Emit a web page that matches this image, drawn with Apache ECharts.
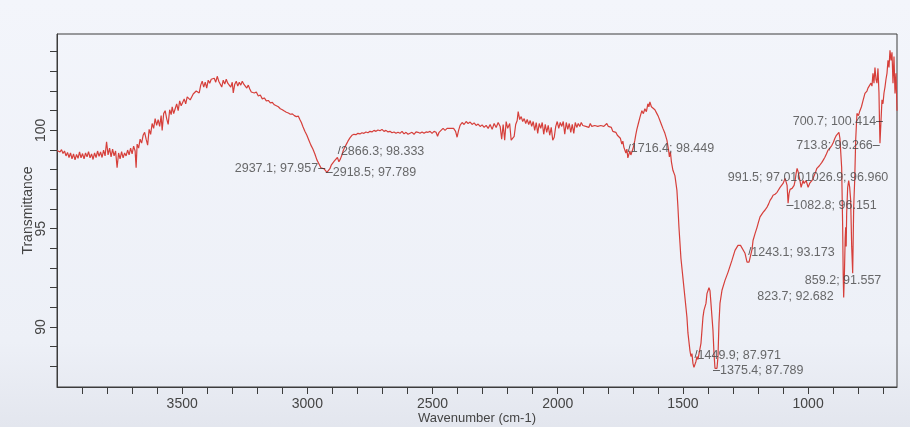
<!DOCTYPE html>
<html>
<head>
<meta charset="utf-8">
<script src="https://cdn.jsdelivr.net/npm/echarts@6/dist/echarts.min.js"></script>
<style>
html,body{margin:0;padding:0;background:#eef1f7;}
#chart{width:910px;height:427px;}
</style>
</head>
<body>
<div id="chart"></div>
<script>
// ---- Spectrum data: [wavenumber (cm-1), transmittance] ----
const regionBaseline = [
 [4000,98.98],[3994,99.05],[3988,98.9],[3982,99.02],[3976,98.82],[3970,98.95],[3964,98.7],[3958,98.88],[3952,98.62],[3946,98.85],
 [3940,98.55],[3934,98.8],[3928,98.5],[3922,98.78],[3916,98.58],[3910,98.9],[3904,98.6],[3898,98.82],[3892,98.55],[3886,98.85],
 [3880,98.65],[3874,98.92],[3868,98.6],[3862,98.8],[3856,98.52],[3850,98.85],[3844,98.62],[3838,98.95],[3832,98.68],[3826,98.9],
 [3820,98.62],[3814,99.0],[3808,98.7],[3802,99.42],[3796,98.75],[3790,99.1],[3784,98.65],[3778,99.05],[3772,98.7],[3766,98.95],
 [3760,98.1],[3754,98.85],[3748,98.55],[3742,98.92],[3736,98.6],[3730,98.85],[3724,98.7],[3718,99.0],[3712,98.75],[3706,99.1],
 [3700,98.8],[3694,99.2],[3688,98.95],[3684,98.1],[3680,99.3]
];
const regionOH = [
 [3674,99.1],[3668,99.55],[3662,99.35],[3656,99.75],[3650,99.9],[3644,99.55],[3638,99.25],[3632,100.05],[3626,99.8],[3620,100.35],
 [3614,100.1],[3608,100.6],[3602,100.25],[3596,100.55],[3590,100.2],[3584,100.75],[3580,100.0],[3574,100.85],[3568,101.0],[3562,100.6],
 [3556,100.3],[3550,101.05],[3544,100.8],[3540,101.2],[3534,100.85],[3528,101.1],[3522,101.35],[3516,101.0],[3510,101.5],[3504,101.25],
 [3498,101.3],[3492,101.6],[3486,101.35],[3480,101.7],[3474,101.8],[3468,101.55],[3462,101.7],[3456,101.85],[3450,101.75],[3444,102.0],
 [3438,102.1],[3432,101.9],[3426,102.3],[3420,102.5],[3414,102.2],[3408,102.45],[3402,102.15],[3396,102.55],[3390,102.4],[3384,102.6],
 [3378,102.5],[3372,102.65],[3366,102.45],[3360,102.75],[3354,102.5],[3348,102.6],[3342,102.2],[3336,102.55],[3330,102.35],[3324,102.6],
 [3318,102.4],[3312,102.5],[3306,102.2],[3300,102.45],[3296,101.9],[3290,102.35],[3284,102.5],[3278,102.25],[3272,102.45],[3266,102.3],
 [3260,102.5],[3254,102.35],[3248,102.4],[3242,102.15],[3236,102.3],[3230,102.1],[3224,101.95],[3218,102.05]
];
const regionCH = [
 [3212,101.9],[3204,101.95],[3196,101.75],[3188,101.8],[3180,101.6],[3172,101.65],[3164,101.5],[3156,101.52],[3148,101.4],[3140,101.42],
 [3132,101.3],[3124,101.25],[3116,101.2],[3108,101.1],[3100,101.05],[3092,100.98],[3084,100.92],[3076,100.88],[3068,100.82],[3060,100.84],
 [3052,100.75],[3044,100.7],[3036,100.72],[3030,100.55],[3024,100.4],[3018,100.2],[3010,99.95],[3002,99.75],[2994,99.5],[2986,99.25],
 [2978,99.05],[2970,98.8],[2962,98.5],[2954,98.3],[2946,98.1],[2940,98.0],[2934,98.05],[2928,97.95],[2922,97.86],[2916,97.9],
 [2910,98.05],[2904,98.25],[2898,98.35],[2892,98.45],[2886,98.55],[2880,98.62],[2874,98.4],[2868,98.55],[2862,98.75],[2856,99.0],
 [2850,99.15],[2844,99.3],[2838,99.45],[2830,99.62],[2822,99.75],[2814,99.8]
];
const regionPlateau = [
 [2806,99.78],[2798,99.85],[2790,99.82],[2782,99.88],[2774,99.85],[2766,99.92],[2758,99.88],[2750,99.95],[2742,99.92],[2734,100.0],
 [2726,99.95],[2718,100.02],[2710,99.98],[2702,100.05],[2694,99.95],[2686,100.0],[2678,99.92],[2670,99.95],[2662,99.88],[2654,99.92],
 [2646,99.85],[2638,99.9],[2630,99.85],[2622,99.95],[2614,99.82],[2606,99.9],[2598,99.8],[2590,99.85],[2582,99.9],[2574,99.8],
 [2566,99.92],[2558,99.9],[2550,99.85],[2542,99.92],[2534,99.85],[2526,99.92],[2518,99.9],[2510,99.95],[2502,99.85],[2494,99.95],
 [2486,99.9],[2480,99.7],[2474,99.9],[2466,100.0],[2458,100.1],[2450,100.0],[2442,100.1],[2436,100.05],[2430,100.1],[2424,100.05],
 [2416,100.1],[2408,99.95],[2402,99.65],[2396,100.0],[2390,100.25],[2382,100.4],[2374,100.3],[2366,100.45],[2358,100.35],[2350,100.42],
 [2342,100.3],[2334,100.38],[2326,100.25],[2318,100.32],[2310,100.2],[2302,100.28],[2294,100.15],[2286,100.25],[2278,100.1],[2270,100.3],
 [2262,100.05],[2254,100.35],[2246,100.15],[2238,100.4],[2230,100.2],[2224,99.55],[2218,100.3],[2212,99.5],[2206,100.45],[2200,100.1],
 [2192,100.35],[2186,99.5],[2180,99.55],[2174,99.7],[2168,100.3],[2162,100.5],[2158,100.95],[2152,100.55],[2146,100.7],[2140,100.45],
 [2134,100.6],[2128,100.35],[2122,100.55],[2116,100.3],[2110,100.5],[2104,100.2],[2098,100.45],[2092,100.0],[2086,100.4],[2080,99.85],
 [2074,100.35],[2068,100.1],[2062,100.4],[2056,99.8],[2050,100.3],[2044,99.9],[2038,100.25],[2032,99.75],[2026,100.15],[2020,99.5],
 [2014,99.65],[2008,100.2],[2002,100.45],[1996,100.1],[1990,100.4],[1984,100.2],[1978,100.45],[1972,99.8],[1966,100.4],[1960,100.05],
 [1954,100.35],[1948,99.9],[1942,100.3],[1936,99.85],[1930,100.4],[1924,100.15],[1918,100.35],[1912,100.2],[1906,100.4],[1900,100.25],
 [1894,100.35],[1888,100.2],[1882,100.3],[1876,100.15],[1870,100.35],[1864,100.2],[1858,100.3],[1852,100.25],[1846,100.35],[1840,100.2],
 [1834,100.3],[1828,100.25],[1822,100.35],[1816,100.2]
];
const regionCarbonyl = [
 [1810,100.3],[1804,100.35],[1798,100.2],[1792,100.1],[1786,100.15],[1780,99.95],[1774,99.85],[1768,99.9],[1762,99.75],[1756,99.8],
 [1750,99.6],[1744,99.3],[1740,99.45],[1736,99.15],[1732,99.0],[1728,98.85],[1724,99.05],[1720,98.6],[1716,98.5],[1712,98.95],
 [1708,98.75],[1704,98.85],[1700,99.05],[1696,99.25],[1692,99.5],[1688,99.8],[1684,100.05],[1678,100.35],[1672,100.65],[1664,101.0],
 [1658,100.85],[1652,101.1],[1646,100.95],[1640,101.35],[1636,101.2],[1632,101.45],[1626,101.2],[1620,101.3],[1612,101.05],[1604,100.85],
 [1598,100.7],[1592,100.5],[1586,100.3],[1580,100.1],[1572,99.85],[1564,99.5],[1558,99.05],[1554,98.65],[1550,98.9],[1546,98.4],
 [1540,97.97],[1532,97.7],[1524,96.95],[1520,96.1],[1516,95.1],[1512,94.3],[1508,93.5],[1504,93.0],[1500,92.5],[1492,91.5],
 [1484,90.5],[1480,89.7],[1472,88.8],[1468,88.5],[1464,88.65],[1460,88.15],[1456,87.95],[1452,88.05],[1448,88.25],[1444,88.5],
 [1440,88.35],[1436,88.4],[1428,89.17],[1424,89.83],[1420,90.5],[1416,90.85],[1408,91.2],[1404,91.7],[1396,92.0],[1392,91.85],
 [1388,91.2],[1380,89.83],[1376,88.66],[1372,87.9],[1364,87.9],[1360,88.5],[1356,90.2],[1352,91.2],[1344,91.87],[1332,92.37],
 [1320,92.78],[1304,93.4],[1292,93.9],[1280,94.15],[1270,94.15],[1264,94.05],[1252,93.75],[1244,93.3],[1236,93.3],[1224,93.95]
];
const regionFingerprint = [
 [1220,94.4],[1212,94.75],[1204,95.07],[1198,95.35],[1192,95.6],[1186,95.7],[1180,95.83],[1172,95.95],[1164,96.1],[1158,96.25],
 [1152,96.44],[1146,96.55],[1140,96.7],[1132,96.75],[1124,96.85],[1118,96.95],[1112,97.1],[1106,97.2],[1100,97.3],[1096,97.35],
 [1092,97.56],[1088,97.5],[1084,97.2],[1080,96.3],[1076,96.8],[1072,97.0],[1068,97.1],[1064,97.05],[1060,96.95],[1056,97.2],
 [1052,97.45],[1048,97.8],[1044,98.07],[1040,97.9],[1036,97.8],[1032,97.4],[1028,97.1],[1024,97.2],[1020,97.45],[1016,97.3],
 [1012,97.3],[1008,97.45],[1004,97.55],[1000,97.1],[994,97.3],[988,97.35],[982,97.5],[977,97.6],[971,97.85],[965,98.07],
 [955,98.2],[945,98.37],[939,98.5],[933,98.63],[927,98.8],[921,98.98],[913,99.1],[905,99.24],[899,99.4],[893,99.6],
 [887,99.75],[881,99.85],[877,99.9],[873,99.6],[869,99.5],[866,98.1],[862,95.07],[860,92.73],[858,91.5],[855,92.73],
 [852,94.5],[850,95.07],[848,94.1],[846,95.8],[842,97.1],[838,97.45],[834,97.1],[830,96.44],[826,94.1],[822,92.73],
 [818,96.1],[814,97.45],[810,99.5],[805,100.86],[799,100.75],[793,101.0],[787,101.2],[781,101.5],[777,101.45],[773,101.88],
 [769,101.8],[765,102.0],[761,102.15],[755,102.2],[749,102.4],[745,102.25],[741,102.9],[737,102.4],[733,103.2],[729,102.6],
 [725,102.4],[721,103.15],[717,101.9],[715,100.5],[713,99.34],[709,99.34],[705,101.55],[701,101.35],[697,101.9],[693,102.2],
 [689,102.6],[685,102.9],[681,103.56],[677,103.2],[673,104.07],[669,103.56],[665,103.97],[661,102.4],[657,103.75],[653,101.88],
 [649,102.9],[645,101.0]
];

// ---- Peak annotations ----
const peakWavenumbers   = [2937.1, 2918.5, 2866.3, 1716.4, 700.7, 713.8, 991.5, 1026.9, 1082.8, 1243.1, 859.2, 823.7, 1449.9, 1375.4];
const peakTransmittance = [97.957, 97.789, 98.333, 98.449, 100.414, 99.266, 97.010, 96.960, 96.151, 93.173, 91.557, 92.682, 87.971, 87.789];

// ---- Axis ticks / labels ----
const xTickValues  = [700,800,900,1000,1100,1200,1300,1400,1500,1600,1700,1800,1900,2000,2100,2200,2300,2400,2500,2600,2700,2800,2900,3000,3100,3200,3300,3400,3500,3600,3700,3800,3900];
const xLabelValues = [1000,1500,2000,2500,3000,3500];
const yTickValues  = [88,89,90,91,92,93,94,95,96,97,98,99,100,101,102,103,104];
const yLabelValues = [90,95,100];

const spectrum = [].concat(regionBaseline, regionOH, regionCH, regionPlateau, regionCarbonyl, regionFingerprint);

// label placement (style only): offset from the peak point in px, alignment, leader mark
const placement = [
  {dx: 2,   dy: -2,   align: 'right', lead: 'after'},
  {dx: -2,  dy: -1.5, align: 'left',  lead: 'before'},
  {dx: -3,  dy: -12,  align: 'left',  lead: 'slash'},
  {dx: -1,  dy: -12,  align: 'left',  lead: 'slash'},
  {dx: 0,   dy: -1,   align: 'right', lead: 'after'},
  {dx: 0,   dy: 0.5,  align: 'right', lead: 'after'},
  {dx: -6,  dy: -12,  align: 'right', lead: 'none'},
  {dx: 3.5, dy: -13,  align: 'left',  lead: 'none'},
  {dx: -1,  dy: -0.5, align: 'left',  lead: 'before'},
  {dx: 1,   dy: -12.5,align: 'left',  lead: 'slash'},
  {dx: -38.5,dy: -15.5,align: 'left', lead: 'none'},
  {dx: -95, dy: 22.5, align: 'left',  lead: 'none'},
  {dx: -1,  dy: -11.5,align: 'left',  lead: 'slash'},
  {dx: -1,  dy: 0.5,  align: 'left',  lead: 'before'}
];

const peakData = peakWavenumbers.map(function (wn, i) {
  const p = placement[i];
  const txt = wn.toFixed(1) + '; ' + peakTransmittance[i].toFixed(3);
  let f;
  if (p.lead === 'after') f = '{t|' + txt + '}{d|–}';
  else if (p.lead === 'before') f = '{d|–}{t|' + txt + '}';
  else if (p.lead === 'slash') f = '{s|/}{t|' + txt + '}';
  else f = '{t|' + txt + '}';
  return {
    value: [wn, peakTransmittance[i]],
    label: { position: [p.dx, p.dy], align: p.align, verticalAlign: 'middle', formatter: f }
  };
});

const FONT = "'Liberation Sans', Arial, sans-serif";
const chart = echarts.init(document.getElementById('chart'), null, {renderer: 'canvas'});
chart.setOption({
  animation: false,
  backgroundColor: {
    type: 'linear', x: 0, y: 0, x2: 0, y2: 1,
    colorStops: [{offset: 0, color: '#f3f5fb'}, {offset: 0.8, color: '#edf0f7'}, {offset: 1, color: '#e3e6ee'}]
  },
  grid: {left: 57, right: 13, top: 34, bottom: 40, outerBoundsMode: 'none', containLabel: false,
         show: true, borderColor: '#3c3c3c', borderWidth: 1, backgroundColor: 'transparent'},
  xAxis: {
    type: 'value', inverse: true, min: 645, max: 4000,
    name: 'Wavenumber (cm-1)', nameLocation: 'middle', nameGap: 25, nameMoveOverlap: false,
    nameTextStyle: {fontSize: 13, color: '#444', fontFamily: FONT},
    axisLine: {show: true, onZero: false, lineStyle: {color: '#3c3c3c', width: 1}},
    axisTick: {show: true, inside: false, length: 7, customValues: xTickValues, lineStyle: {color: '#3c3c3c'}},
    axisLabel: {customValues: xLabelValues, margin: 10, fontSize: 14, color: '#444', fontFamily: FONT,
                formatter: function (v) { return String(v); }},
    splitLine: {show: false}
  },
  yAxis: {
    type: 'value', min: 86.95, max: 104.9,
    name: 'Transmittance', nameLocation: 'middle', nameGap: 22, nameRotate: 90, nameMoveOverlap: false,
    nameTextStyle: {fontSize: 14, color: '#444', fontFamily: FONT},
    axisLine: {show: true, onZero: false, lineStyle: {color: '#3c3c3c', width: 1}},
    axisTick: {show: true, inside: false, length: 7, customValues: yTickValues, lineStyle: {color: '#3c3c3c'}},
    axisLabel: {customValues: yLabelValues, rotate: 90, margin: 9, fontSize: 14, color: '#444', fontFamily: FONT,
                formatter: function (v) { return String(v); }},
    splitLine: {show: false}
  },
  series: [
    {
      type: 'line', data: spectrum, symbol: 'none', showSymbol: false, smooth: false,
      lineStyle: {color: '#d63f3a', width: 1.2}, silent: true, z: 2
    },
    {
      type: 'scatter', data: peakData, symbol: 'circle', symbolSize: 0.01,
      itemStyle: {color: 'rgba(0,0,0,0)'}, silent: true, z: 3,
      label: {
        show: true,
        rich: {
          t: {fontSize: 12.5, color: '#454545', fontFamily: FONT},
          d: {fontSize: 12.5, color: '#1e1e1e', fontFamily: FONT},
          s: {fontSize: 11, color: '#1e1e1e', fontFamily: FONT}
        }
      }
    }
  ]
});
</script>
</body>
</html>
